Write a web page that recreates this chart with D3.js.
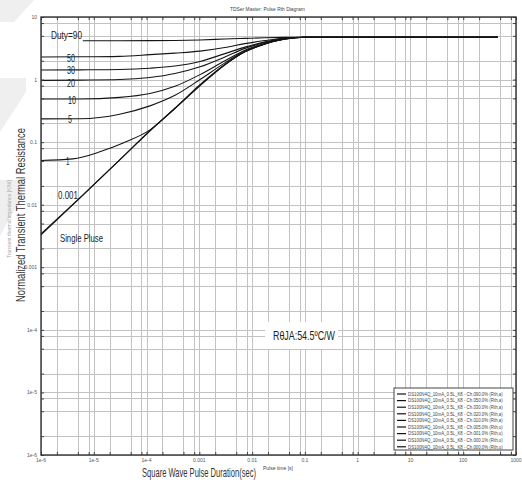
<!DOCTYPE html>
<html>
<head>
<meta charset="utf-8">
<script src="https://cdn.jsdelivr.net/npm/d3@7"></script>
<style>
  html, body { margin: 0; padding: 0; background: #fff; }
  svg { display: block; }
  text { font-family: "Liberation Sans Narrow", "Liberation Sans", Arial, sans-serif; }
</style>
</head>
<body>
<svg id="chart" width="522" height="486"></svg>
<script>
// ---- data: pulse duration [s] and transient thermal resistance per duty cycle ----
const singleT = [1e-6, 5.5e-6, 3.1e-5, 1.16e-4, 3.45e-4, 1.03e-3, 3.05e-3, 7.3e-3, 1.75e-2, 4.2e-2, 0.1, 450];
const singleZ = [0.0033, 0.0129, 0.052, 0.151, 0.345, 0.80, 1.72, 2.77, 3.70, 4.45, 4.74, 4.75];

const duty001T = [1e-6, 5.5e-6, 3.1e-5, 1.16e-4, 3.45e-4, 1.03e-3, 3.05e-3, 7.3e-3, 1.75e-2, 4.2e-2, 0.1, 450];
const duty001Z = [0.0034, 0.013, 0.052, 0.152, 0.346, 0.80, 1.72, 2.77, 3.70, 4.45, 4.74, 4.75];

const duty1T = [1e-6, 4e-6, 1.3e-5, 3.6e-5, 1.16e-4, 3.45e-4, 1.03e-3, 3.05e-3, 7.3e-3, 1.75e-2, 4.2e-2, 0.1, 450];
const duty1Z = [0.051, 0.054, 0.07, 0.097, 0.157, 0.35, 0.83, 1.75, 2.8, 3.72, 4.45, 4.75, 4.75];

const duty5T = [1e-6, 5.5e-6, 3.1e-5, 1.16e-4, 3.45e-4, 1.03e-3, 3.05e-3, 7.3e-3, 1.75e-2, 4.2e-2, 0.1, 450];
const duty5Z = [0.235, 0.237, 0.28, 0.38, 0.56, 1.0, 1.85, 2.85, 3.75, 4.46, 4.75, 4.75];

const duty10T = [1e-6, 5.5e-6, 3.1e-5, 1.16e-4, 3.45e-4, 1.03e-3, 3.05e-3, 7.3e-3, 1.75e-2, 4.2e-2, 0.1, 450];
const duty10Z = [0.49, 0.49, 0.52, 0.60, 0.78, 1.2, 2.0, 2.95, 3.8, 4.48, 4.75, 4.75];

const duty20T = [1e-6, 5.5e-6, 3.1e-5, 1.16e-4, 3.45e-4, 1.03e-3, 3.05e-3, 7.3e-3, 1.75e-2, 4.2e-2, 0.1, 450];
const duty20Z = [0.97, 0.98, 1.0, 1.08, 1.25, 1.6, 2.3, 3.15, 3.9, 4.5, 4.75, 4.75];

const duty30T = [1e-6, 5.5e-6, 3.1e-5, 1.16e-4, 3.45e-4, 1.03e-3, 3.05e-3, 7.3e-3, 1.75e-2, 4.2e-2, 0.1, 450];
const duty30Z = [1.42, 1.43, 1.45, 1.52, 1.65, 1.95, 2.6, 3.3, 4.0, 4.55, 4.75, 4.75];

const duty50T = [1e-6, 5.5e-6, 3.1e-5, 1.16e-4, 3.45e-4, 1.03e-3, 3.05e-3, 7.3e-3, 1.75e-2, 4.2e-2, 0.1, 450];
const duty50Z = [2.30, 2.31, 2.35, 2.5, 2.65, 2.85, 3.25, 3.75, 4.2, 4.6, 4.75, 4.75];

const duty90T = [6.2e-6, 3.1e-5, 1.16e-4, 3.45e-4, 1.03e-3, 3.05e-3, 7.3e-3, 1.75e-2, 4.2e-2, 0.1, 450];
const duty90Z = [4.18, 4.18, 4.19, 4.22, 4.3, 4.45, 4.55, 4.65, 4.72, 4.75, 4.75];

const curveNames = ["90", "50", "30", "20", "10", "5", "1", "0.001", "single"];
const legendLabels = [
  "DS100N4Q_10mA_0.5L_K8 - Ch.090.0% (Rth,a)",
  "DS100N4Q_10mA_0.5L_K8 - Ch.050.0% (Rth,a)",
  "DS100N4Q_10mA_0.5L_K8 - Ch.030.0% (Rth,a)",
  "DS100N4Q_10mA_0.5L_K8 - Ch.020.0% (Rth,a)",
  "DS100N4Q_10mA_0.5L_K8 - Ch.010.0% (Rth,a)",
  "DS100N4Q_10mA_0.5L_K8 - Ch.005.0% (Rth,u)",
  "DS100N4Q_10mA_0.5L_K8 - Ch.001.0% (Rth,u)",
  "DS100N4Q_10mA_0.5L_K8 - Ch.000.1% (Rth,u)",
  "DS100N4Q_10mA_0.5L_K8 - Ch.000.0% (Rth,u)"
];

const xTickValues = [1e-6, 1e-5, 1e-4, 1e-3, 1e-2, 0.1, 1, 10, 100, 1000];
const xTickLabels = ["1e-6", "1e-5", "1e-4", "0.001", "0.01", "0.1", "1", "10", "100", "1000"];
const yTickValues = [1e-6, 1e-5, 1e-4, 1e-3, 1e-2, 0.1, 1, 10];
const yTickLabels = ["1e-6", "1e-5", "1e-4", "0.001", "0.01", "0.1", "1", "10"];
const gridMultipliers = [1, 2, 5, 8];

// ---- layout ----
const svg = d3.select("#chart");
const plotLeft = 41, plotRight = 516, plotTop = 17, plotBottom = 455;

const x = d3.scaleLog().domain([1e-6, 1000]).range([plotLeft, plotRight]);
const y = d3.scaleLog().domain([1e-6, 10]).range([plotBottom, plotTop]);

// condensed text: place at (tx, ty), optionally rotate, then squeeze to width w
function squeezed(parent, str, tx, ty, w, opts = {}) {
  const t = parent.append("text").attr("font-size", opts.size || 11)
    .attr("fill", opts.fill || "#222")
    .attr("text-anchor", opts.anchor || "start")
    .text(str);
  const k = w / t.node().getComputedTextLength();
  t.attr("transform", `translate(${tx},${ty})${opts.rotate ? ` rotate(${opts.rotate})` : ""} scale(${k},1)`);
  return t;
}

// faint background chevrons on the left margin
const bg = svg.append("g").attr("fill", "#efefef");
bg.append("path").attr("d", "M0,0 L34,0 L14,22 L0,22 Z");
bg.append("path").attr("d", "M0,78 L26,78 L26,92 L0,132 Z");
bg.append("path").attr("d", "M0,180 L22,180 L22,196 L0,236 Z");

// grid values per decade
const gridX = [], gridY = [];
for (let e = -6; e < 3; e++) gridMultipliers.forEach(m => gridX.push(m * Math.pow(10, e)));
gridX.push(1000);
for (let e = -6; e < 1; e++) gridMultipliers.forEach(m => gridY.push(m * Math.pow(10, e)));
gridY.push(10);

const grid = svg.append("g").attr("stroke", "#c2c2c2").attr("stroke-width", 1);
grid.selectAll("line.gx").data(gridX).join("line")
  .attr("x1", d => Math.round(x(d)) + 0.5).attr("x2", d => Math.round(x(d)) + 0.5)
  .attr("y1", plotTop).attr("y2", plotBottom);
grid.selectAll("line.gy").data(gridY).join("line")
  .attr("y1", d => Math.round(y(d)) + 0.5).attr("y2", d => Math.round(y(d)) + 0.5)
  .attr("x1", plotLeft).attr("x2", plotRight);

// white panel behind the junction-to-ambient note
svg.append("rect").attr("x", 265).attr("y", 322).attr("width", 73).attr("height", 27).attr("fill", "#fff");

// ---- curves ----
const series = [
  { t: duty90T, z: duty90Z }, { t: duty50T, z: duty50Z }, { t: duty30T, z: duty30Z },
  { t: duty20T, z: duty20Z }, { t: duty10T, z: duty10Z }, { t: duty5T, z: duty5Z },
  { t: duty1T, z: duty1Z }, { t: duty001T, z: duty001Z }, { t: singleT, z: singleZ }
].map((s, i) => ({ name: curveNames[i], pts: s.t.map((t, j) => [t, s.z[j]]) }));

const line = d3.line().x(d => x(d[0])).y(d => y(d[1])).curve(d3.curveMonotoneX);
svg.append("g").selectAll("path").data(series).join("path")
  .attr("d", d => line(d.pts))
  .attr("fill", "none").attr("stroke", "#151515").attr("stroke-width", 1.1);

// ---- axes with inward ticks ----
const axes = svg.append("g").attr("color", "#333");
const tickAxis = (axis, g) => {
  g.call(axis);
  g.select(".domain").remove();
  g.selectAll("text").remove();
  g.selectAll("line").attr("stroke", "#444");
};
axes.append("g").attr("transform", `translate(0,${plotBottom})`)
  .call(g => tickAxis(d3.axisBottom(x).tickValues(gridX).tickSize(-3), g));
axes.append("g").attr("transform", `translate(0,${plotTop})`)
  .call(g => tickAxis(d3.axisTop(x).tickValues(gridX).tickSize(-3), g));
axes.append("g").attr("transform", `translate(${plotLeft},0)`)
  .call(g => tickAxis(d3.axisLeft(y).tickValues(gridY).tickSize(-3), g));
axes.append("g").attr("transform", `translate(${plotRight},0)`)
  .call(g => tickAxis(d3.axisRight(y).tickValues(gridY).tickSize(-3), g));

svg.append("rect").attr("x", plotLeft).attr("y", plotTop)
  .attr("width", plotRight - plotLeft).attr("height", plotBottom - plotTop)
  .attr("fill", "none").attr("stroke", "#333").attr("stroke-width", 1.4);

// tick labels
svg.append("g").selectAll("text").data(xTickValues).join("text")
  .attr("x", d => x(d)).attr("y", 462)
  .attr("text-anchor", "middle").attr("font-size", 5).attr("fill", "#555")
  .text((d, i) => xTickLabels[i]);
svg.append("g").selectAll("text").data(yTickValues).join("text")
  .attr("x", 37).attr("y", d => y(d) + 2)
  .attr("text-anchor", "end").attr("font-size", 5).attr("fill", "#555")
  .text((d, i) => yTickLabels[i]);

// ---- titles ----
squeezed(svg, "TDSer Master: Pulse Rth Diagram", 230, 10.5, 75, { size: 5.5, fill: "#444" });

squeezed(svg, "Normalized Transient Thermal Resistance", 24.5, 215, 174,
  { size: 13, fill: "#333", anchor: "middle", rotate: -90 });
squeezed(svg, "Transient thermal impedance [K/W]", 11, 219, 78,
  { size: 5, fill: "#aaa", anchor: "middle", rotate: -90 });

squeezed(svg, "Square Wave Pulse Duration(sec)", 142, 477, 114, { size: 13.5, fill: "#333" });
squeezed(svg, "Pulse time [s]", 263, 469.5, 30, { size: 5, fill: "#444" });

// ---- curve labels ----
const labels = svg.append("g");
squeezed(labels, "Duty=90", 51, 39, 31);
squeezed(labels, "50", 67, 61.5, 8);
squeezed(labels, "30", 67, 74, 8);
squeezed(labels, "20", 67, 87, 8);
squeezed(labels, "10", 68, 104, 8);
squeezed(labels, "5", 68, 123, 4);
squeezed(labels, "1", 66, 164.5, 3.5);
squeezed(labels, "0.001", 58, 198.5, 20, { size: 10 });
squeezed(labels, "Single Pluse", 60, 242, 43);

squeezed(svg, "RθJA:54.5ºC/W", 273, 339.5, 62, { size: 12.5 });

// ---- legend ----
const legend = svg.append("g").attr("transform", "translate(394,388)");
legend.append("rect").attr("width", 119).attr("height", 62)
  .attr("fill", "#fff").attr("stroke", "#444").attr("stroke-width", 1);
const rows = legend.selectAll("g").data(legendLabels).join("g")
  .attr("transform", (d, i) => `translate(0,${6 + i * 6.6})`);
rows.append("line").attr("x1", 3).attr("x2", 12).attr("stroke", "#111").attr("stroke-width", 1.2);
rows.each(function (d) {
  squeezed(d3.select(this), d, 14, 1.8, 95, { size: 4.6, fill: "#444" });
});
</script>
</body>
</html>
